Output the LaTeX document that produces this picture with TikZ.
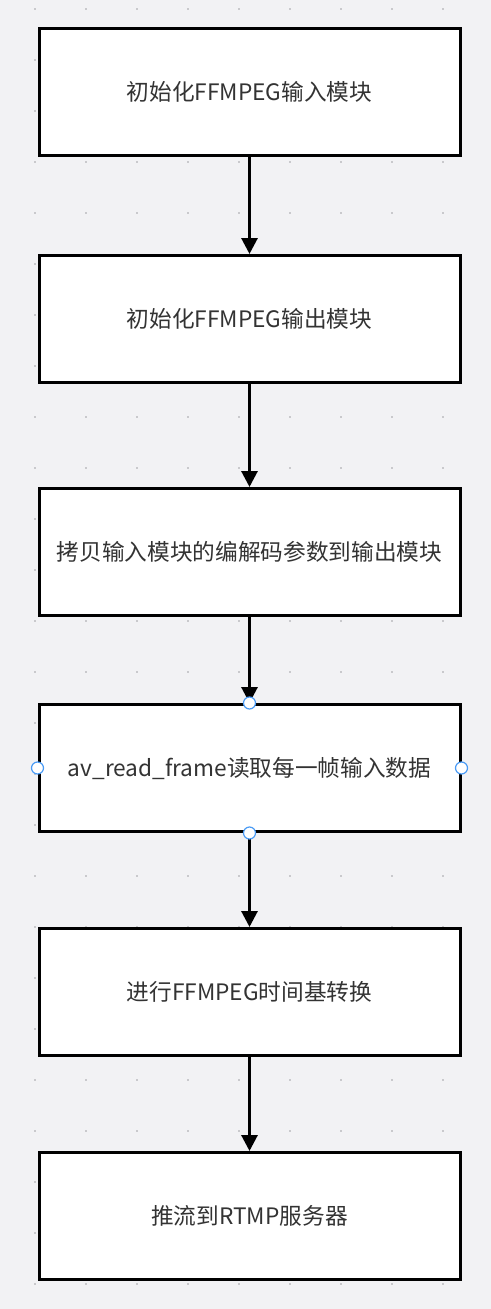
\documentclass[tikz,border=0pt]{standalone}
\usepackage{fontspec}
\usepackage{xcolor}
\usetikzlibrary{arrows.meta,positioning,calc}
\newfontfamily\cjk{Noto Sans CJK SC}
\definecolor{canvas}{HTML}{F2F2F4}
\definecolor{griddot}{HTML}{C9C9CC}
\definecolor{txt}{HTML}{333333}
\definecolor{handleblue}{HTML}{4A9BF5}

\begin{document}
\begin{tikzpicture}[x=0.75pt, y=-0.75pt, box/.style={draw, line width=2.25pt, fill=white, minimum width=315.75pt, minimum height=95.25pt, inner sep=0pt, align=center, text=txt, font=\cjk\fontsize{17pt}{20pt}\selectfont}, arrow/.style={-{Triangle[length=12pt, width=12pt]}, line width=2.25pt}, handle/.style={draw=handleblue, fill=white, line width=0.9pt}]
% canvas and dot grid
\fill[canvas] (0,0) rectangle (491,1309);
\useasboundingbox (0,0) rectangle (491,1309);
\foreach \i in {0,...,8} \foreach \j in {0,...,25} \fill[griddot] (35+51*\i-1.2,9+51*\j-1.2) rectangle ++(2.4,2.4);
% steps
\node[box] (init_in)  at (249.5,92)   {初始化FFMPEG输入模块};
\node[box] (init_out) at (249.5,319)  {初始化FFMPEG输出模块};
\node[box] (copy)     at (249.5,552)  {拷贝输入模块的编解码参数到输出模块};
\node[box] (read)     at (249.5,768)  {av\_read\_frame读取每一帧输入数据};
\node[box] (tb)       at (249.5,992)  {进行FFMPEG时间基转换};
\node[box] (push)     at (249.5,1216) {推流到RTMP服务器};
\draw[arrow] (init_in) -- (init_out); \draw[arrow] (init_out) -- (copy); \draw[arrow] (copy) -- (read); \draw[arrow] (read) -- (tb); \draw[arrow] (tb) -- (push);
% selection handles
\foreach \a in {north,south,west,east} \draw[handle] (read.\a) circle (4.5pt);
\end{tikzpicture}
\end{document}
